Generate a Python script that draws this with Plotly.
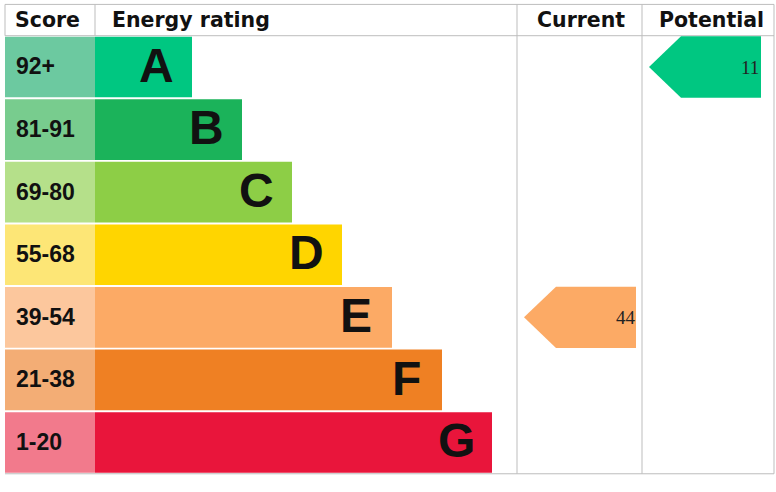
import plotly.graph_objects as go

# ---- data ----
bands = ["A", "B", "C", "D", "E", "F", "G"]
score_labels = ["92+", "81-91", "69-80", "55-68", "39-54", "21-38", "1-20"]
band_colors = ["#00c781", "#1bb35a", "#8dce46", "#ffd500", "#fcaa65", "#ef8023", "#e9153b"]
score_colors = ["#6cc9a0", "#78cc8e", "#b5e08a", "#fde676", "#fcc79d", "#f3ad75", "#f27a8c"]
headers = ["Score", "Energy rating", "Current", "Potential"]
current_band, current_value = "E", 44
potential_band, potential_value = "A", 11

# ---- layout constants (pixel-like x units, row-index y units) ----
W, H = 776, 492
X_LEFT, X_SCORE, X_CUR, X_POT, X_RIGHT = 5, 95, 517, 642, 774
BAR_FIRST, BAR_STEP = 97, 50
ROW_PX, ROW0_PX = 62.58, 67.0
Y_TOP, Y_HEAD, Y_BOT = -1.0, -0.5, 6.5
GRID = "#bdbdbd"

rows = list(range(len(bands)))
bar_len = [BAR_FIRST + BAR_STEP * i for i in rows]

fig = go.Figure()

# score column cells
fig.add_trace(go.Bar(
    y=rows, x=[X_SCORE - X_LEFT] * len(rows), base=X_LEFT, orientation="h",
    width=0.97, marker=dict(color=score_colors, line=dict(width=0)),
    hoverinfo="skip", showlegend=False))

# rating bars
fig.add_trace(go.Bar(
    y=rows, x=bar_len, base=X_SCORE, orientation="h",
    width=0.97, marker=dict(color=band_colors, line=dict(width=0)),
    hoverinfo="skip", showlegend=False))

annotations = []
for i, (b, s) in enumerate(zip(bands, score_labels)):
    annotations.append(dict(x=X_LEFT + 9, y=i - 0.01, text="<b>%s</b>" % s, showarrow=False,
                            xanchor="left", yanchor="middle",
                            font=dict(family="Liberation Sans", size=23, color="#111111"),
                            xref="x", yref="y"))
    annotations.append(dict(x=X_SCORE + bar_len[i] - 36, y=i - 0.03, text="<b>%s</b>" % b,
                            showarrow=False, xanchor="center", yanchor="middle",
                            font=dict(family="Liberation Sans", size=48, color="#111111"),
                            xref="x", yref="y"))


def arrow(col_left, band, value, color, text_dx):
    r = bands.index(band)
    left = col_left + 7
    right = left + 112
    tip = 32
    hh = 0.49
    xs = [left, left + tip, right, right, left + tip, left]
    ys = [r, r - hh, r - hh, r + hh, r + hh, r]
    fig.add_trace(go.Scatter(x=xs, y=ys, mode="lines", fill="toself",
                             fillcolor=color, line=dict(width=0, color=color),
                             hoverinfo="skip", showlegend=False))
    annotations.append(dict(x=right + text_dx, y=r, text=str(value), showarrow=False,
                            xanchor="right", yanchor="middle",
                            font=dict(family="Liberation Serif", size=19, color="#222222"),
                            xref="x", yref="y"))


arrow(X_CUR, current_band, current_value, band_colors[bands.index(current_band)], 2)
arrow(X_POT, potential_band, potential_value, band_colors[bands.index(potential_band)], 0)

# headers
hy = (Y_TOP + Y_HEAD) / 2 - 0.0
hfont = dict(family="DejaVu Sans", size=20.5, color="#111111")
annotations += [
    dict(x=X_LEFT + 8, y=hy, text="<b>%s</b>" % headers[0], xanchor="left"),
    dict(x=X_SCORE + 15, y=hy, text="<b>%s</b>" % headers[1], xanchor="left"),
    dict(x=(X_CUR + X_POT) / 2 + 1, y=hy, text="<b>%s</b>" % headers[2], xanchor="center"),
    dict(x=(X_POT + X_RIGHT) / 2 + 3, y=hy, text="<b>%s</b>" % headers[3], xanchor="center"),
]
for a in annotations[-4:]:
    a.update(showarrow=False, yanchor="middle", font=hfont, xref="x", yref="y")

# grid lines
line = dict(color=GRID, width=1)
shapes = [
    dict(type="line", x0=X_LEFT, x1=X_RIGHT, y0=Y_TOP, y1=Y_TOP, line=line),
    dict(type="line", x0=X_LEFT, x1=X_RIGHT, y0=Y_HEAD, y1=Y_HEAD, line=line),
    dict(type="line", x0=X_LEFT, x1=X_RIGHT, y0=Y_BOT, y1=Y_BOT, line=line),
    dict(type="line", x0=X_LEFT, x1=X_LEFT, y0=Y_TOP, y1=Y_HEAD, line=line),
    dict(type="line", x0=X_SCORE, x1=X_SCORE, y0=Y_TOP, y1=Y_HEAD, line=line),
    dict(type="line", x0=X_CUR, x1=X_CUR, y0=Y_TOP, y1=Y_BOT, line=line),
    dict(type="line", x0=X_POT, x1=X_POT, y0=Y_TOP, y1=Y_BOT, line=line),
    dict(type="line", x0=X_RIGHT, x1=X_RIGHT, y0=Y_TOP, y1=Y_BOT, line=line),
]
for s in shapes:
    s.update(xref="x", yref="y", layer="below")

y_min = -ROW0_PX / ROW_PX
y_max = (H - ROW0_PX) / ROW_PX

fig.update_layout(
    width=W, height=H, autosize=False,
    margin=dict(l=0, r=0, t=0, b=0, pad=0),
    paper_bgcolor="white", plot_bgcolor="white",
    barmode="overlay",
    xaxis=dict(range=[0, W], visible=False, fixedrange=True),
    yaxis=dict(range=[y_max, y_min], visible=False, fixedrange=True),
    annotations=annotations, shapes=shapes, showlegend=False,
)

fig.write_html("out.html", config={"displayModeBar": False, "staticPlot": True},
               post_script="document.body.style.margin='0px';document.body.style.overflow='hidden';")
